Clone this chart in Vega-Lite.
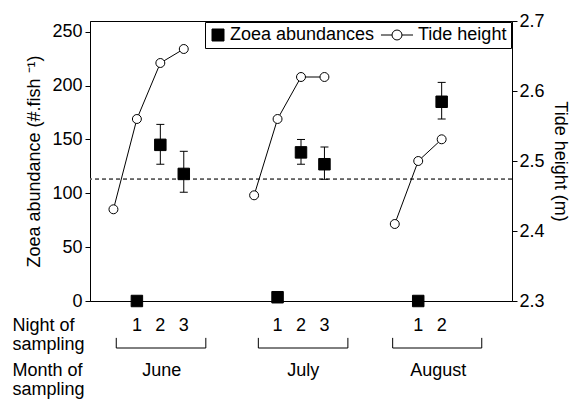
{
  "$schema": "https://vega.github.io/schema/vega-lite/v6.json",
  "padding": {"left": 12, "top": 11, "right": 5, "bottom": 0},
  "background": "white",
  "config": {
    "font": "Liberation Sans",
    "view": {"stroke": null},
    "axis": {"domainColor": "black", "tickColor": "black", "labelColor": "black", "titleColor": "black", "labelFontSize": 18, "titleFontSize": 18, "titleFontWeight": "normal", "grid": false, "tickSize": 5, "domainWidth": 1, "tickWidth": 1, "labelFont": "Liberation Sans", "titleFont": "Liberation Sans"},
    "legend": {"title": null, "orient": "top-right", "direction": "horizontal", "strokeColor": "black", "fillColor": "white", "padding": 4, "offset": 1, "symbolSize": 144, "symbolStrokeWidth": 1, "labelFontSize": 18, "labelFont": "Liberation Sans", "labelColor": "black", "labelOffset": 3, "columnPadding": 3, "cornerRadius": 0},
    "text": {"font": "Liberation Sans"}
  },
  "datasets": {
    "zoea": [
      {"month": "June", "night": 1, "x": 2, "abundance": 0, "lo": null, "hi": null, "series": "Zoea abundances"},
      {"month": "June", "night": 2, "x": 3, "abundance": 145, "lo": 127, "hi": 164, "series": "Zoea abundances"},
      {"month": "June", "night": 3, "x": 4, "abundance": 118, "lo": 101, "hi": 139, "series": "Zoea abundances"},
      {"month": "July", "night": 1, "x": 8, "abundance": 3.5, "lo": null, "hi": null, "series": "Zoea abundances"},
      {"month": "July", "night": 2, "x": 9, "abundance": 138, "lo": 127, "hi": 150, "series": "Zoea abundances"},
      {"month": "July", "night": 3, "x": 10, "abundance": 127, "lo": 113, "hi": 143, "series": "Zoea abundances"},
      {"month": "August", "night": 1, "x": 14, "abundance": 0, "lo": null, "hi": null, "series": "Zoea abundances"},
      {"month": "August", "night": 2, "x": 15, "abundance": 185, "lo": 169, "hi": 203, "series": "Zoea abundances"}
    ],
    "tide": [
      {"month": "June", "x": 1, "tide": 2.431},
      {"month": "June", "x": 2, "tide": 2.56},
      {"month": "June", "x": 3, "tide": 2.64},
      {"month": "June", "x": 4, "tide": 2.66},
      {"month": "July", "x": 7, "tide": 2.451},
      {"month": "July", "x": 8, "tide": 2.56},
      {"month": "July", "x": 9, "tide": 2.62},
      {"month": "July", "x": 10, "tide": 2.62},
      {"month": "August", "x": 13, "tide": 2.41},
      {"month": "August", "x": 14, "tide": 2.5},
      {"month": "August", "x": 15, "tide": 2.531}
    ],
    "months": [
      {"month": "June", "start": 1.12, "end": 4.94, "mid": 3.06},
      {"month": "July", "start": 7.18, "end": 11.0, "mid": 9.1},
      {"month": "August", "start": 12.91, "end": 16.71, "mid": 14.85}
    ]
  },
  "spacing": 2,
  "bounds": "flush",
  "vconcat": [
    {
      "width": 422,
      "height": 280,
      "view": {"stroke": "black", "strokeWidth": 1},
      "layer": [
        {
          "data": {"name": "zoea"},
          "layer": [
            {
              "mark": {"type": "rule", "strokeDash": [4, 3], "color": "#666666", "strokeWidth": 1},
              "encoding": {"y": {"datum": 113, "type": "quantitative", "title": "Zoea abundance (#.fish ⁻¹)"}}
            },
            {
              "mark": {"type": "rule", "color": "black", "strokeWidth": 1},
              "encoding": {
                "x": {"field": "x", "type": "quantitative", "scale": {"domain": [0, 18]}, "axis": null},
                "y": {"field": "lo", "type": "quantitative", "title": "Zoea abundance (#.fish ⁻¹)"},
                "y2": {"field": "hi"}
              }
            },
            {
              "mark": {"type": "tick", "orient": "horizontal", "size": 8, "thickness": 1, "color": "black", "opacity": 1},
              "encoding": {
                "x": {"field": "x", "type": "quantitative", "scale": {"domain": [0, 18]}, "axis": null},
                "y": {"field": "lo", "type": "quantitative", "title": "Zoea abundance (#.fish ⁻¹)"}
              }
            },
            {
              "mark": {"type": "tick", "orient": "horizontal", "size": 8, "thickness": 1, "color": "black", "opacity": 1},
              "encoding": {
                "x": {"field": "x", "type": "quantitative", "scale": {"domain": [0, 18]}, "axis": null},
                "y": {"field": "hi", "type": "quantitative", "title": "Zoea abundance (#.fish ⁻¹)"}
              }
            },
            {
              "mark": {"type": "point", "filled": true, "size": 132, "opacity": 1, "strokeWidth": 1},
              "encoding": {
                "x": {"field": "x", "type": "quantitative", "scale": {"domain": [0, 18]}, "axis": null},
                "y": {"field": "abundance", "type": "quantitative", "title": "Zoea abundance (#.fish ⁻¹)", "scale": {"domain": [0, 250]},
                  "axis": {"orient": "left", "values": [0, 50, 100, 150, 200, 250], "labelPadding": 3, "titlePadding": 8}},
                "shape": {"field": "series", "type": "nominal",
                  "scale": {"domain": ["Zoea abundances", "Tide height"], "range": ["square", "M-4.17,0H-2.33M-0.67,0H1.17M-0.67,0A0.83,0.83 0 1,1 -2.33,0A0.83,0.83 0 1,1 -0.67,0Z"]}},
                "fill": {"field": "series", "type": "nominal",
                  "scale": {"domain": ["Zoea abundances", "Tide height"], "range": ["black", "white"]}},
                "stroke": {"field": "series", "type": "nominal",
                  "scale": {"domain": ["Zoea abundances", "Tide height"], "range": ["black", "black"]}}
              }
            }
          ]
        },
        {
          "data": {"name": "tide"},
          "layer": [
            {
              "mark": {"type": "line", "color": "black", "strokeWidth": 1},
              "encoding": {
                "x": {"field": "x", "type": "quantitative", "scale": {"domain": [0, 18]}, "axis": null},
                "y": {"field": "tide", "type": "quantitative", "title": "Tide height (m)", "scale": {"domain": [2.3, 2.7], "zero": false},
                  "axis": {"orient": "right", "values": [2.3, 2.4, 2.5, 2.6, 2.7], "format": ".1f", "labelPadding": 2, "titlePadding": 6}},
                "detail": {"field": "month", "type": "nominal"}
              }
            },
            {
              "mark": {"type": "point", "shape": "circle", "filled": true, "fill": "white", "stroke": "black", "strokeWidth": 1, "size": 80, "opacity": 1},
              "encoding": {
                "x": {"field": "x", "type": "quantitative", "scale": {"domain": [0, 18]}, "axis": null},
                "y": {"field": "tide", "type": "quantitative", "title": "Tide height (m)"}
              }
            }
          ]
        }
      ],
      "resolve": {"scale": {"y": "independent"}}
    },
    {
      "width": 422,
      "height": 90,
      "view": {"stroke": null},
      "layer": [
        {
          "data": {"name": "zoea"},
          "mark": {"type": "text", "fontSize": 18, "color": "black", "baseline": "middle"},
          "encoding": {
            "x": {"field": "x", "type": "quantitative", "scale": {"domain": [0, 18]}, "axis": null},
            "y": {"datum": 1, "type": "quantitative", "scale": {"domain": [0, 4], "reverse": true},
              "axis": {"title": null, "values": [1, 3], "domain": false, "ticks": false, "tickSize": 0, "labelAlign": "left", "labelPadding": 78, "labelBaseline": "middle", "labelOffset": 0, "labelLineHeight": 19, "labelFontSize": 18,
                "labelExpr": "datum.value == 1 ? ['Night of', 'sampling'] : ['Month of', 'sampling']"}},
            "text": {"field": "night", "type": "nominal"}
          }
        },
        {
          "data": {"name": "months"},
          "mark": {"type": "rule", "color": "black", "strokeWidth": 1},
          "encoding": {
            "x": {"field": "start", "type": "quantitative", "scale": {"domain": [0, 18]}, "axis": null},
            "x2": {"field": "end"},
            "y": {"datum": 2, "type": "quantitative"}
          }
        },
        {
          "data": {"name": "months"},
          "mark": {"type": "rule", "color": "black", "strokeWidth": 1},
          "encoding": {
            "x": {"field": "start", "type": "quantitative", "scale": {"domain": [0, 18]}, "axis": null},
            "y": {"datum": 1.55, "type": "quantitative"},
            "y2": {"datum": 2}
          }
        },
        {
          "data": {"name": "months"},
          "mark": {"type": "rule", "color": "black", "strokeWidth": 1},
          "encoding": {
            "x": {"field": "end", "type": "quantitative", "scale": {"domain": [0, 18]}, "axis": null},
            "y": {"datum": 1.55, "type": "quantitative"},
            "y2": {"datum": 2}
          }
        },
        {
          "data": {"name": "months"},
          "mark": {"type": "text", "fontSize": 18, "color": "black", "baseline": "middle"},
          "encoding": {
            "x": {"field": "mid", "type": "quantitative", "scale": {"domain": [0, 18]}, "axis": null},
            "y": {"datum": 3, "type": "quantitative"},
            "text": {"field": "month", "type": "nominal"}
          }
        }
      ]
    }
  ]
}
